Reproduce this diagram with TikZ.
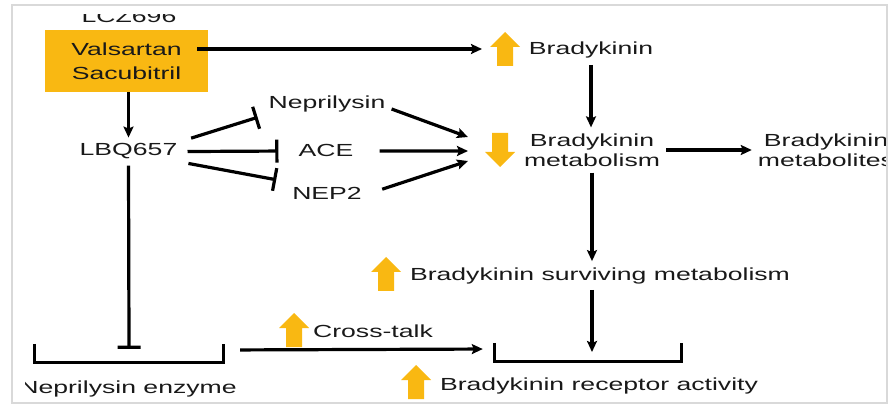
\documentclass[tikz,border=0pt]{standalone}
\usepackage{fontspec}
\setmainfont{Liberation Sans}[FakeStretch=1.52]
\usetikzlibrary{arrows.meta}
\definecolor{pillgold}{RGB}{249,184,18}
\definecolor{inkgray}{RGB}{25,25,25}
\tikzset{
  boost/.pic={\fill[pillgold] (0,-17)--(15,-2)--(8,-2)--(8,17)--(-8,17)--(-8,-2)--(-15,-2)--cycle;},
}
\begin{document}
\begin{tikzpicture}[x=1pt,y=-1pt,font=\fontsize{17.5}{20}\selectfont,
    txt/.style={text=inkgray,inner sep=6pt,align=center},
    act/.style={-{Stealth[length=11pt,width=10pt,inset=2pt]},line width=3.2pt},
    blk/.style={-{Bar[width=23pt]},line width=3.2pt},
    tray/.style={minimum width=188pt,minimum height=18pt,inner sep=0pt}]
  \useasboundingbox (0,0) rectangle (892,406);
  \begin{scope}
    \clip (25,14.5) rectangle (887,403);
    % drug and its products
    \node[txt,anchor=base] (lcz) at (129,23) {LCZ696};
    \node[txt,fill=pillgold,minimum width=163pt,minimum height=62pt,
      font=\fontsize{17.5}{24}\selectfont] (drug) at (126.5,61) {Valsartan\\Sacubitril};
    \node[txt,anchor=base] (lbq) at (128.5,156) {LBQ657};
    \node[txt,anchor=base] (nep) at (327,109) {Neprilysin};
    \node[txt,anchor=base] (ace) at (326,157) {ACE};
    \node[txt,anchor=base] (nep2) at (327,200) {NEP2};
    % bradykinin chain
    \node[txt,anchor=base] (bk) at (591,55) {Bradykinin};
    \node[txt] (met) at (592,150) {Bradykinin\\metabolism};
    \node[txt] (mets) at (826,150) {Bradykinin\\metabolites};
    \node[txt,anchor=base] (surv) at (600,280) {Bradykinin surviving metabolism};
    \node[tray] (nepenz) at (129,353) {};
    \node[tray,minimum width=186pt] (recbr) at (588,352) {};
    \node[txt,anchor=base] (xtalk) at (373,337) {Cross-talk};
    \node[txt,anchor=base] (recact) at (599,390) {Bradykinin receptor activity};
    \node[txt,anchor=base] (nepenzlab) at (128,393) {Neprilysin enzyme};
    \coordinate (bkin) at (482,49);
    \coordinate (hubA) at (468,137);
    \coordinate (hubB) at (468,151);
    \coordinate (hubC) at (468,161);
    % up / down markers
    \foreach \px/\py/\r in {505/49/0,500/150/180,386/274/0,294/330/0,416/382/0}
      \pic[rotate=\r] at (\px,\py) {boost};
    % connectors
    \draw[act] ([xshift=-11pt,yshift=12pt]drug.east) -- (bkin);
    \draw[act] (drug.south -| lbq) -- (lbq.north);
    \draw[act] (bk.south) -- (bk.south |- met.north);
    \draw[act] (met.east) -- (mets.west);
    \draw[act] (met.south) -- (met.south |- surv.north);
    \draw[act] (met.south |- surv.south) -- (met.south |- recbr.center);
    \draw[act] (nep.base east) -- (hubA);
    \draw[act,shorten <=20pt] (ace.east) -- (hubB);
    \draw[act,shorten <=15pt] (nep2.east) -- (hubC);
    \draw[act,shorten <=17pt,shorten >=12pt] ([yshift=3pt]nepenz.east) -- ([yshift=3pt]recbr.west);
    % inhibition
    \draw[blk,shorten <=8pt,shorten >=5pt] ([yshift=11pt]lbq.east) -- ([yshift=3pt]nep.south west);
    \draw[blk,shorten <=4pt,shorten >=14pt] (lbq.east) -- (ace.west);
    \draw[blk,shorten <=5pt,shorten >=10pt] ([yshift=-11pt]lbq.east) -- (nep2.north west);
    \draw[blk,shorten >=-5pt] (lbq.south) -- (nepenz.north);
    % brackets
    \foreach \b in {nepenz,recbr}
      \draw[line width=3.2pt] (\b.north west) |- (\b.south east) -- (\b.north east);
  \end{scope}
  \draw[gray!30,line width=1.2pt] (12,5) rectangle (887,403);
\end{tikzpicture}
\end{document}
